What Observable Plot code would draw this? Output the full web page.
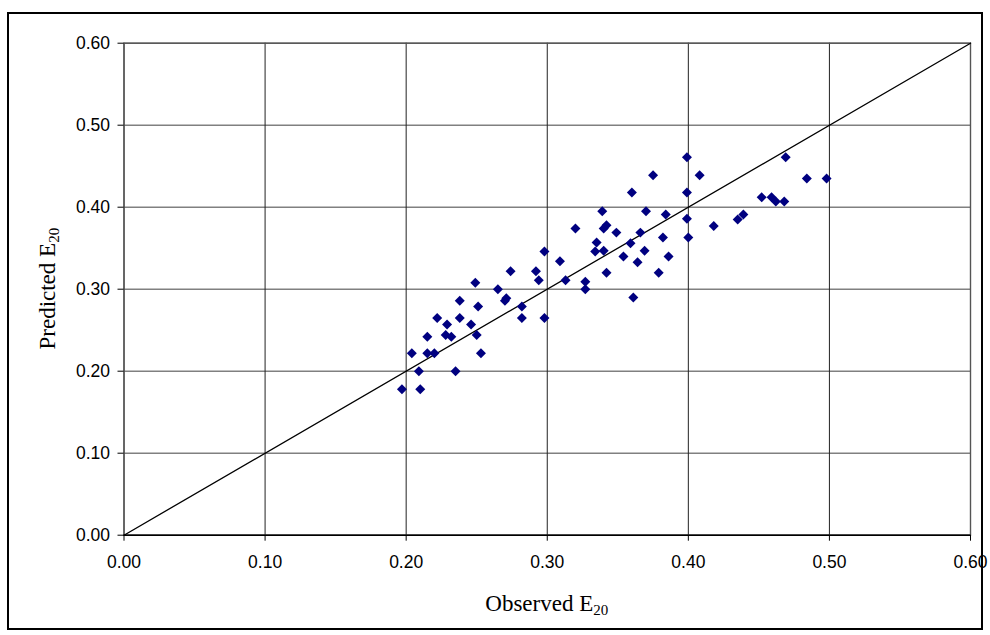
<!DOCTYPE html>
<html>
<head>
<meta charset="utf-8">
<script src="https://cdn.jsdelivr.net/npm/d3@7"></script>
<script src="https://cdn.jsdelivr.net/npm/@observablehq/plot@0.6"></script>
<style>
  html, body { margin: 0; padding: 0; background: #fff; }
  #wrap { position: relative; width: 990px; height: 635px; }
  #wrap svg { position: absolute; left: 0; top: 0; }
  #border { position: absolute; left: 7px; top: 12px; width: 976px; height: 618px;
            border: 2px solid #000; box-sizing: border-box; pointer-events: none; }
</style>
</head>
<body>
<div id="wrap"><div id="border"></div></div>
<script>
// Observed E20 (x) and Predicted E20 (y)
const observed = [
  0.197, 0.210, 0.209, 0.235, 0.204, 0.215, 0.220, 0.253, 0.215, 0.222,
  0.229, 0.228, 0.232, 0.238, 0.238, 0.246, 0.250, 0.251, 0.249, 0.265,
  0.270, 0.271, 0.282, 0.282, 0.298, 0.274, 0.292, 0.294, 0.298, 0.309,
  0.313, 0.327, 0.327, 0.320, 0.339, 0.370, 0.384, 0.399, 0.400, 0.340,
  0.342, 0.349, 0.366, 0.335, 0.334, 0.340, 0.359, 0.354, 0.369, 0.382,
  0.364, 0.386, 0.342, 0.379, 0.361, 0.418, 0.399, 0.375, 0.408, 0.360,
  0.399, 0.469, 0.484, 0.498, 0.452, 0.459, 0.462, 0.468, 0.435, 0.439
];
const predicted = [
  0.178, 0.178, 0.200, 0.200, 0.222, 0.222, 0.222, 0.222, 0.242, 0.265,
  0.257, 0.244, 0.242, 0.286, 0.265, 0.257, 0.244, 0.279, 0.308, 0.300,
  0.286, 0.289, 0.279, 0.265, 0.265, 0.322, 0.322, 0.311, 0.346, 0.334,
  0.311, 0.309, 0.300, 0.374, 0.395, 0.395, 0.391, 0.386, 0.363, 0.374,
  0.378, 0.369, 0.369, 0.357, 0.346, 0.347, 0.356, 0.340, 0.347, 0.363,
  0.333, 0.340, 0.320, 0.320, 0.290, 0.377, 0.461, 0.439, 0.439, 0.418,
  0.418, 0.461, 0.435, 0.435, 0.412, 0.412, 0.407, 0.407, 0.385, 0.391
];
const ticks = [0, 0.1, 0.2, 0.3, 0.4, 0.5, 0.6];
const refLine = [0, 0.6];
const xTitle = ["Observed E", "20"];
const yTitle = ["Predicted E", "20"];

const points = observed.map((x, i) => ({x, y: predicted[i]}));
const fmt = d => d.toFixed(2);

const plot = Plot.plot({
  width: 990,
  height: 635,
  marginLeft: 123.5,
  marginRight: 20,
  marginTop: 42.7,
  marginBottom: 100.3,
  x: {domain: [0, 0.6]},
  y: {domain: [0, 0.6]},
  style: {fontFamily: "'Liberation Sans', Arial, sans-serif", fontSize: "17.5px", background: "transparent", color: "#000"},
  marks: [
    Plot.gridY(ticks, {stroke: "#808080", strokeOpacity: 1, strokeWidth: 1.4}),
    Plot.gridX(ticks, {stroke: "#222", strokeOpacity: 1, strokeWidth: 1}),
    Plot.frame({stroke: "#555", strokeWidth: 1.4}),
    Plot.axisY(ticks, {tickFormat: fmt, tickSize: 6, tickPadding: 8, label: null}),
    Plot.axisX(ticks, {tickFormat: fmt, tickSize: 6, tickPadding: 14, label: null}),
    Plot.ruleY([0], {stroke: "#000", strokeWidth: 1.5}),
    Plot.line(refLine, {x: d => d, y: d => d, stroke: "#000", strokeWidth: 1.3}),
    Plot.dot(points, {x: "x", y: "y", symbol: "diamond2", r: 4.5, fill: "#000080", stroke: "none"})
  ]
});

document.getElementById("wrap").insertBefore(plot, document.getElementById("border"));

const svg = d3.select(plot);
const serif = "'Liberation Serif', 'Times New Roman', serif";

const xt = svg.append("text")
  .attr("x", 546.75).attr("y", 611)
  .attr("text-anchor", "middle")
  .style("font-family", serif).style("font-size", "23px").attr("fill", "#000");
xt.append("tspan").text(xTitle[0]);
xt.append("tspan").attr("dy", 4).style("font-size", "15px").text(xTitle[1]);

const yt = svg.append("text")
  .attr("transform", "translate(55,288.7) rotate(-90)")
  .attr("text-anchor", "middle")
  .style("font-family", serif).style("font-size", "23px").attr("fill", "#000");
yt.append("tspan").text(yTitle[0]);
yt.append("tspan").attr("dy", 4).style("font-size", "15px").text(yTitle[1]);
</script>
</body>
</html>
